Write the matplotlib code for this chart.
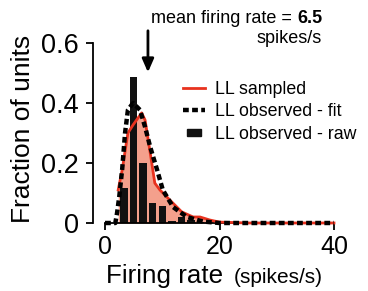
import matplotlib
matplotlib.use("Agg")
import matplotlib.pyplot as plt
from matplotlib.lines import Line2D
from matplotlib.patches import Rectangle
from matplotlib.legend_handler import HandlerPatch

plt.rcParams['font.family'] = ['Liberation Sans', 'DejaVu Sans']

# ---- data ----
bin_centers = [1.67, 3.33, 5.0, 6.67, 8.33, 10.0, 11.67, 13.33, 15.0, 16.67]
raw_frac = [0.0, 0.117, 0.487, 0.20, 0.067, 0.057, 0.007, 0.02, 0.01, 0.005]

fit_x = [0, 1.0, 1.8, 2.1, 2.5, 3.0, 3.5, 4.0, 4.9, 6.1, 7.0, 7.9, 9.1, 10.1, 11.9, 14.3, 17.1, 20, 30, 40]
fit_y = [0, 0, 0, 0.033, 0.09, 0.18, 0.30, 0.377, 0.40, 0.377, 0.32, 0.253, 0.177, 0.11, 0.053, 0.02, 0.005, 0.0, 0.0, 0.0]

samp_x = [2.3, 3.0, 4.0, 4.9, 6.4, 7.0, 7.9, 8.7, 9.6, 11.3, 13.4, 15.4, 16.6, 18.3, 20, 25, 30, 35, 40]
samp_y = [0.11, 0.177, 0.30, 0.327, 0.367, 0.343, 0.233, 0.133, 0.11, 0.077, 0.037, 0.02, 0.02, 0.01, 0.003, 0.0, 0.0, 0.0, 0.0]

mean_rate = 6.5
arrow_x = 7.5
x_ticks = [0, 20, 40]
y_ticks = [0, 0.2, 0.4, 0.6]
y_tick_labels = ['0', '0.2', '0.4', '0.6']
legend_labels = ['LL sampled', 'LL observed - fit', 'LL observed - raw']

W, H = 368, 291
fig = plt.figure(figsize=(W / 100, H / 100), dpi=100)
ax = fig.add_axes([93 / W, 68 / H, 247 / W, 186 / H])
ax.set_xlim(-2.1, 41.05)
ax.set_ylim(0, 0.62)


def fx(px):
    return px / W


def fy(py):
    return 1 - py / H


fill_col = '#f4a08c'
red = '#e8321e'
DASH = (1.3, 0.75)
LW_D = 3.2

ax.fill_between(samp_x, samp_y, 0, color=fill_col, lw=0, zorder=1)
ax.bar(bin_centers, raw_frac, width=1.3, color='#111111', zorder=2)
ax.plot(samp_x, samp_y, color=red, lw=2, zorder=3, clip_on=False)
ax.plot(fit_x, fit_y, color='black', lw=LW_D, dashes=DASH, zorder=4, clip_on=False)

for s in ['top', 'right']:
    ax.spines[s].set_visible(False)
ax.spines['left'].set_bounds(0, 0.6)
ax.spines['bottom'].set_bounds(0, 40)
for s in ['left', 'bottom']:
    ax.spines[s].set_linewidth(1.3)

ax.set_xticks(x_ticks)
ax.set_yticks(y_ticks)
ax.set_yticklabels(y_tick_labels)
ax.tick_params(axis='both', length=5, width=1.3)
ax.tick_params(axis='x', labelsize=18, pad=4)
ax.tick_params(axis='y', labelsize=19.5, pad=5)

fig.text(fx(23), fy(128.5), 'Fraction of units', fontsize=19, rotation=90, ha='center', va='center')
fig.text(fx(106.5), fy(283), 'Firing rate', fontsize=18.7, ha='left', va='baseline')
fig.text(fx(234), fy(283), '(spikes/s)', fontsize=15, ha='left', va='baseline')

# arrow for mean
ax.annotate('', xy=(arrow_x, 0.493), xytext=(arrow_x, 0.65),
            arrowprops=dict(arrowstyle='-|>,head_length=0.8,head_width=0.35', color='black', lw=2),
            annotation_clip=False)
t_bold = fig.text(fx(322), fy(23), str(mean_rate), fontsize=13, fontweight='bold', ha='right', va='baseline')
fig.canvas.draw()
bb = t_bold.get_window_extent(renderer=fig.canvas.get_renderer())
fig.text(bb.x0 / W, fy(23), 'mean firing rate = ', fontsize=13, ha='right', va='baseline')
fig.text(fx(322), fy(43), 'spikes/s', fontsize=13, ha='right', va='baseline')


def make_rect(legend, orig_handle, xdescent, ydescent, width, height, fontsize):
    w = width * 0.6
    h = 7 * 72 / 100
    return Rectangle((xdescent + (width - w) / 2, ydescent + (height - h) / 2), w, h)


handles = [Line2D([], [], color=red, lw=2),
           Line2D([], [], color='black', lw=LW_D, dashes=DASH),
           Rectangle((0, 0), 1, 1, color='#111111')]
ax.legend(handles, legend_labels, loc='upper left', bbox_to_anchor=(fx(183), fy(81)),
          bbox_transform=fig.transFigure, frameon=False, fontsize=12.8,
          handlelength=1.24, handletextpad=0.56, labelspacing=0.3, borderpad=0,
          borderaxespad=0,
          handler_map={Rectangle: HandlerPatch(patch_func=make_rect)})

fig.savefig('out.png', dpi=100)
